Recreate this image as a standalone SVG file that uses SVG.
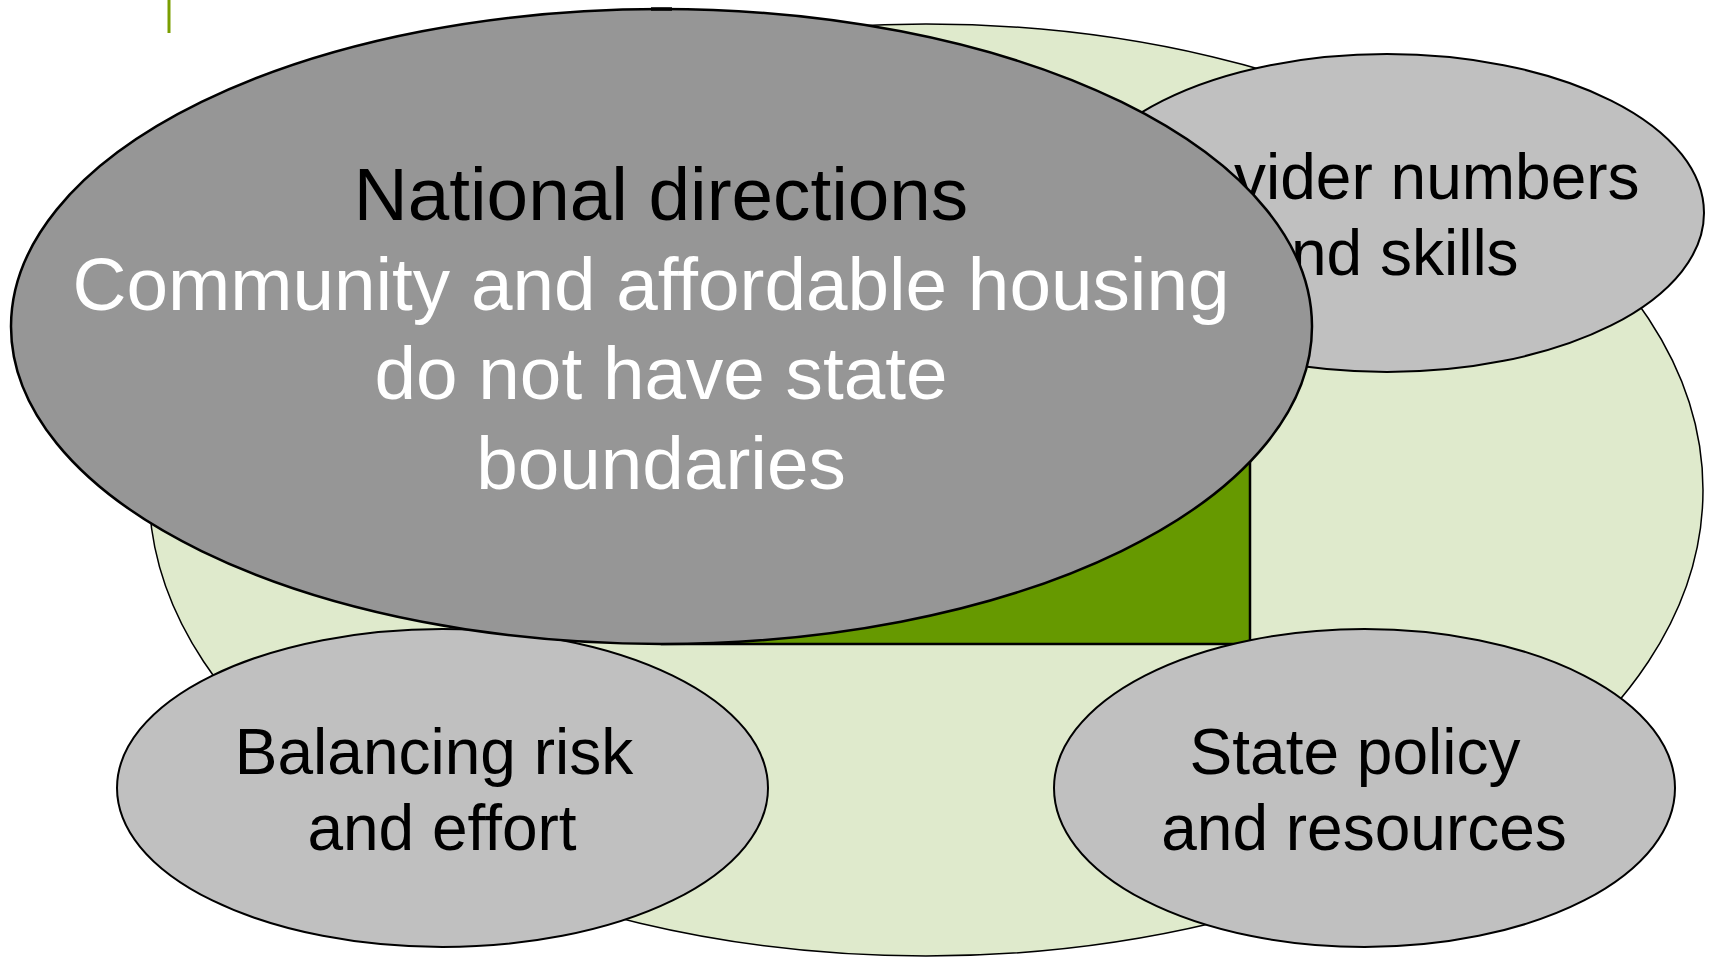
<svg xmlns="http://www.w3.org/2000/svg" width="1712" height="957" viewBox="0 0 1712 957">
<style>
.t{font-family:"Liberation Sans",Arial,sans-serif;text-anchor:middle}
.big{font-size:74.7px}
.sm{font-size:64px;fill:#000}
.light{fill:#c0c0c0;stroke:#000;stroke-width:2}
</style>
<rect width="1712" height="957" fill="#fff"/>
<line x1="169" y1="0" x2="169" y2="33" stroke="#7a9e00" stroke-width="3"/>
<g id="background">
<ellipse cx="926" cy="490" rx="777" ry="466" fill="#dfeacc" stroke="#000" stroke-width="1.5"/>
</g>
<g id="accent">
<rect x="662" y="327" width="588" height="317" fill="#669900" stroke="#000" stroke-width="2.5"/>
</g>
<g id="provider">
<ellipse class="light" cx="1387" cy="213" rx="317" ry="159"/>
<text class="t sm" x="1387" y="199">Provider numbers</text>
<text class="t sm" x="1387" y="275">and skills</text>
</g>
<g id="balancing">
<ellipse class="light" cx="442.5" cy="788" rx="325.5" ry="159"/>
<text class="t sm" x="434" y="774">Balancing risk</text>
<text class="t sm" x="442" y="850">and effort</text>
</g>
<g id="state">
<ellipse class="light" cx="1364.5" cy="788" rx="310.5" ry="159"/>
<text class="t sm" x="1355" y="774">State policy</text>
<text class="t sm" x="1364" y="850">and resources</text>
</g>
<g id="national">
<ellipse cx="661.5" cy="326.5" rx="650.5" ry="317.5" fill="#969696" stroke="#000" stroke-width="2.5"/>
<line x1="651" y1="9" x2="672" y2="9" stroke="#000" stroke-width="3.5"/>
<text class="t big" x="661" y="220" fill="#000">National directions</text>
<text class="t big" x="651" y="309.5" fill="#fff">Community and affordable housing</text>
<text class="t big" x="661" y="399" fill="#fff">do not have state</text>
<text class="t big" x="661" y="488.5" fill="#fff">boundaries</text>
</g>
<g id="connectors"></g>
</svg>
